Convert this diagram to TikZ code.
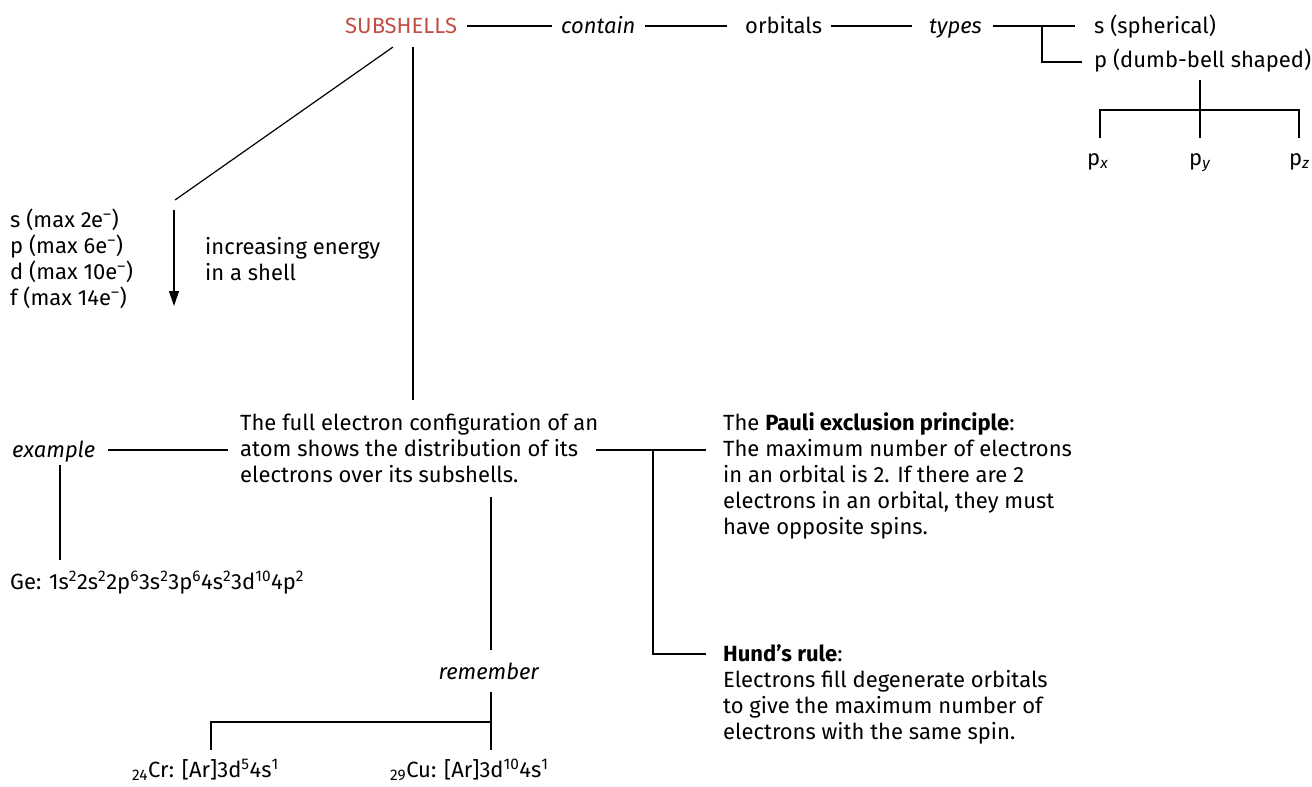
\documentclass[tikz,border=0pt]{standalone}
\usepackage{fontspec}
\setmainfont{Fira Sans}
\usetikzlibrary{arrows.meta}
\definecolor{subred}{RGB}{192,80,70}
\begin{document}
\begin{tikzpicture}[x=1pt,y=-1pt,
  every node/.style={inner sep=0pt, font=\fontsize{22}{26}\selectfont},
  lbl/.style={anchor=base west, text height=16pt, text depth=2pt},
  txt/.style={anchor=base west, align=left},
  conn/.style={line width=1.2pt, black}]
\useasboundingbox (0,0) rectangle (1312,787);

% top row
\node[lbl, text=subred] (sub) at (345,33) {SUBSHELLS};
\node[lbl] (contain) at (561,33) {\textit{contain}};
\node[lbl] (orb) at (745,33) {orbitals};
\node[lbl] (types) at (929,33) {\textit{types}};
\node[lbl] (ss) at (1094,33) {s (spherical)};
\node[lbl] (pp) at (1094,67) {p (dumb-bell shaped)};
\draw[conn] ([xshift=10pt]sub.east) -- ([xshift=-9pt]contain.west);
\draw[conn] ([xshift=9pt]contain.east) -- ([xshift=-18pt]orb.west);
\draw[conn] ([xshift=9pt]orb.east) -- ([xshift=-17pt]types.west);
\draw[conn] ([xshift=11pt]types.east) -- ([xshift=-19pt]ss.west);
\coordinate (tj) at (1042,26);
\draw[conn] (tj) |- ([xshift=-12pt,yshift=-2pt]pp.west);

% p orbitals
\node[lbl] (px) at (1087,165) {p\textsubscript{\textit{x}}};
\node[lbl] (py) at (1189,165) {p\textsubscript{\textit{y}}};
\node[lbl] (pz) at (1289,165) {p\textsubscript{\textit{z}}};
\coordinate (pbt) at (1200,80);
\coordinate (pyt) at (1200,138);
\coordinate (pxt) at (1100,138);
\coordinate (pzt) at (1299,138);
\coordinate (pl) at (1100,110);
\coordinate (pr) at (1299,110);
\draw[conn] (pbt) -- (pyt);
\draw[conn] (pxt) -- (pl) -- (pr) -- (pzt);

% subshell list
\coordinate (d1) at (393,47);
\coordinate (d2) at (175,200);
\draw[conn] (d1) -- (d2);
\node[txt] (list) at (10,305) {s (max 2e\textsuperscript{–})\\p (max 6e\textsuperscript{–})\\d (max 10e\textsuperscript{–})\\f (max 14e\textsuperscript{–})};
\coordinate (a1) at (174,210);
\coordinate (a2) at (174,306);
\draw[conn,-{Triangle[length=15pt,width=10pt]}] (a1) -- (a2);
\node[txt] (energy) at (205,280) {increasing energy\\in a shell};

% central
\coordinate (v1) at (413,47);
\coordinate (v2) at (413,400);
\draw[conn] (v1) -- (v2);
\node[txt] (full) at (240,482) {The full electron configuration of an\\atom shows the distribution of its\\electrons over its subshells.};

% example
\node[lbl] (example) at (12,457) {\textit{example}};
\coordinate (e1) at (108,450);
\coordinate (e2) at (228,450);
\draw[conn] (e1) -- (e2);
\coordinate (g1) at (60,465);
\coordinate (g2) at (60,560);
\draw[conn] (g1) -- (g2);
\node[lbl] (ge) at (10,589) {Ge: 1s\textsuperscript{2}2s\textsuperscript{2}2p\textsuperscript{6}3s\textsuperscript{2}3p\textsuperscript{6}4s\textsuperscript{2}3d\textsuperscript{10}4p\textsuperscript{2}};

% rules
\node[txt] (pauli) at (723,534) {The \textbf{Pauli exclusion principle}:\\The maximum number of electrons\\in an orbital is 2. If there are 2\\electrons in an orbital, they must\\have opposite spins.};
\node[txt] (hund) at (723,739) {\textbf{Hund’s rule}:\\Electrons fill degenerate orbitals\\to give the maximum number of\\electrons with the same spin.};
\coordinate (r1) at (596,450);
\coordinate (r2) at (706,450);
\coordinate (rj) at (653,450);
\coordinate (r3) at (706,654);
\draw[conn] (r1) -- (r2);
\draw[conn] (rj) |- (r3);

% remember
\coordinate (m1) at (491,497);
\coordinate (m2) at (491,650);
\draw[conn] (m1) -- (m2);
\node[lbl, anchor=base] (rem) at (489,679) {\textit{remember}};
\coordinate (m3) at (491,692);
\coordinate (m4) at (491,750);
\coordinate (m5) at (211,722);
\coordinate (m6) at (211,750);
\coordinate (m7) at (491,722);
\draw[conn] (m3) -- (m4);
\draw[conn] (m6) -- (m5) -- (m7);
\node[lbl] (cr) at (132,777) {\textsubscript{24}Cr: [Ar]3d\textsuperscript{5}4s\textsuperscript{1}};
\node[lbl] (cu) at (390,777) {\textsubscript{29}Cu: [Ar]3d\textsuperscript{10}4s\textsuperscript{1}};
\end{tikzpicture}
\end{document}
